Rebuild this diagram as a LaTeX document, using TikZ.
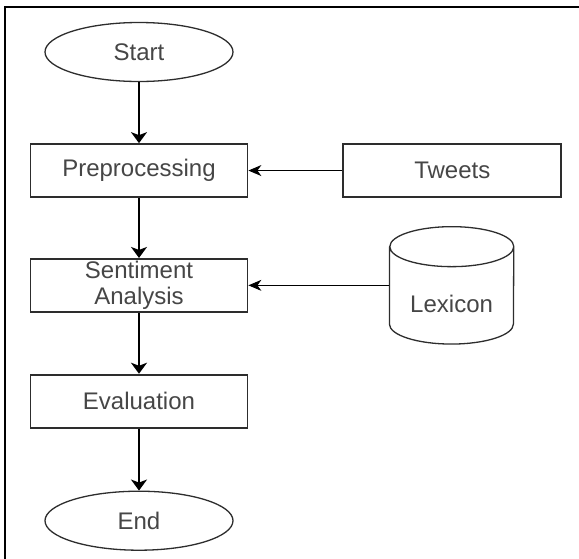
\documentclass[tikz,border=0pt]{standalone}
\usepackage{fontspec}
\setmainfont{Liberation Sans}
\usepackage{tikz}
\usetikzlibrary{arrows.meta,positioning,calc,shapes.geometric}
\definecolor{flowText}{RGB}{70,70,70}
\definecolor{flowLine}{RGB}{45,45,45}

\begin{document}
\begin{tikzpicture}[
    node distance=61pt,
    every node/.style={font=\fontsize{24}{26}\selectfont, text=flowText},
    box/.style={rectangle, draw=flowLine, line width=1.8pt, fill=white, minimum width=217pt, minimum height=53pt, align=center, inner sep=2pt},
    term/.style={ellipse, draw=flowLine, line width=1.3pt, fill=white, minimum width=188pt, minimum height=59pt, inner sep=1pt},
    arrow/.style={-{Stealth[length=11pt,width=16pt,inset=3pt]}, line width=1.8pt, draw=black},
    feed/.style={-{Stealth[length=13pt,width=11pt,inset=4pt]}, line width=1pt, draw=black}
]
\useasboundingbox (-139pt,52pt) rectangle (440pt,-506pt);
% frame
\draw[line width=1.6pt, black] (-134pt,-510pt) |- (445pt,45pt);
\node[term] (start) at (0,0) {Start};
\node[box, below=of start] (prep) {Preprocessing};
\node[box, below=60pt of prep] (sent) {Sentiment\\Analysis};
\node[box, below=of sent] (eval) {Evaluation};
\node[term, below=62pt of eval] (end) {End};
\node[box, right=94pt of prep, minimum width=218pt] (tweets) {Tweets};
\node[right=141pt of sent, minimum width=124pt, minimum height=117pt, inner sep=0pt] (lexicon) {};
% cylinder
\draw[draw=flowLine, line width=1.3pt, fill=white] ([yshift=-20pt]lexicon.north west) -- ([yshift=20pt]lexicon.south west)
    arc[start angle=180, end angle=360, x radius=62pt, y radius=20pt] -- ([yshift=-20pt]lexicon.north east)
    arc[start angle=0, end angle=180, x radius=62pt, y radius=20pt]
    arc[start angle=180, end angle=360, x radius=62pt, y radius=20pt];
\node (lexlabel) at ([yshift=-19pt]lexicon.center) {Lexicon};
\draw[arrow] (start) -- (prep);
\draw[arrow] (prep) -- (sent);
\draw[arrow] (sent) -- (eval);
\draw[arrow] (eval) -- (end);
\draw[feed] (tweets) -- (prep);
\draw[feed] (lexicon.west) -- (sent.east);
\end{tikzpicture}
\end{document}
